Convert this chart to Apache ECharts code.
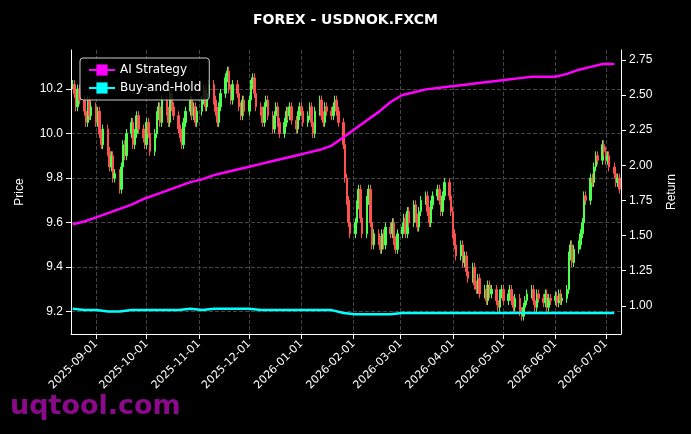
<!DOCTYPE html><html><head><meta charset="utf-8"><script src="https://cdn.jsdelivr.net/npm/echarts@6/dist/echarts.min.js"></script>
<style>body{margin:0;background:#000}#c{width:691px;height:434px}</style></head><body><div id="c"></div><script>
const startDate='2025-08-18';
const closes=[10.22,10.18,10.12,10.20,10.15, 10.10,10.05,10.15,10.08,10.12, 10.05,10.10,10.00,9.95,10.02, 9.92,9.85,9.90,9.80,9.82,
9.75,9.85,9.95,9.90,10.00, 10.05,9.95,10.00,10.08,10.02, 9.98,9.95,10.05,10.00,9.92, 10.00,10.08,10.12,10.05,10.15,
10.10,10.05,10.18,10.12,10.08, 10.02,9.98,9.95,10.05,10.10, 10.15,10.08,10.12,10.05,10.10, 10.15,10.20,10.12,10.18,10.22,
10.15,10.10,10.05,10.12,10.18, 10.25,10.28,10.20,10.15,10.22, 10.18,10.12,10.08,10.15,10.10, 10.15,10.22,10.25,10.18,10.12,
10.10,10.05,10.12,10.15,10.08, 10.02,10.08,10.12,10.05,10.00, 10.05,10.10,10.08,10.12,10.06, 10.02,10.08,10.12,10.10,10.05,
10.08,10.12,10.05,10.00,10.10, 10.15,10.08,10.05,10.12,10.10, 10.08,10.12,10.15,10.10,10.05, 9.95,9.80,9.70,9.60,9.55,
9.60,9.68,9.75,9.62,9.55, 9.70,9.75,9.60,9.50,9.55, 9.52,9.48,9.55,9.50,9.58, 9.55,9.60,9.52,9.48,9.55,
9.58,9.62,9.55,9.65,9.60, 9.68,9.62,9.58,9.65,9.70, 9.72,9.65,9.60,9.68,9.72, 9.75,9.70,9.65,9.72,9.78,
9.72,9.65,9.55,9.50,9.45, 9.50,9.42,9.45,9.38,9.35, 9.40,9.32,9.30,9.35,9.28, 9.30,9.25,9.32,9.28,9.30,
9.25,9.22,9.28,9.30,9.25, 9.28,9.30,9.25,9.22,9.26, 9.20,9.18,9.22,9.25,9.28, 9.30,9.25,9.22,9.28,9.26,
9.24,9.28,9.22,9.26,9.25, 9.27,9.24,9.28,9.25,9.26, 9.30,9.45,9.50,9.42,9.48, 9.50,9.55,9.60,9.72,9.70,
9.80,9.78,9.85,9.90,9.88, 9.95,9.92,9.88,9.90,9.85, 9.82,9.78,9.80,9.75];
const aiReturn=[1.58,1.60,1.63,1.66,1.69,1.72,1.76,1.79,1.82,1.85,1.88,1.90,1.93,1.95,1.97,1.99,2.01,2.03,2.05,2.07,2.09,2.11,2.14,2.20,2.26,2.32,2.38,2.45,2.50,2.52,2.54,2.55,2.56,2.57,2.58,2.59,2.60,2.61,2.62,2.63,2.63,2.63,2.65,2.68,2.70,2.72,2.72];
const bhReturn=[0.98,0.97,0.97,0.96,0.96,0.97,0.97,0.97,0.97,0.97,0.98,0.97,0.98,0.98,0.98,0.98,0.97,0.97,0.97,0.97,0.97,0.97,0.97,0.95,0.94,0.94,0.94,0.94,0.95,0.95,0.95,0.95,0.95,0.95,0.95,0.95,0.95,0.95,0.95,0.95,0.95,0.95,0.95,0.95,0.95,0.95,0.95];
const priceTicks=[9.2,9.4,9.6,9.8,10.0,10.2];
const returnTicks=[1.00,1.25,1.50,1.75,2.00,2.25,2.50,2.75];
const monthTicks=['2025-09-01','2025-10-01','2025-11-01','2025-12-01','2026-01-01','2026-02-01','2026-03-01','2026-04-01','2026-05-01','2026-06-01','2026-07-01'];

const DAY=86400000, t0=Date.parse(startDate+'T00:00:00Z');
const days=[];{let i=0;while(days.length<closes.length){const d=t0+i*DAY;const wd=new Date(d).getUTCDay();if(wd>0&&wd<6)days.push(d);i++;}}
const candles=closes.map((c,i)=>{const o=i?closes[i-1]:c;return [days[i],o,c,Math.min(o,c)-0.02,Math.max(o,c)+0.02];});
const ai=aiReturn.map((v,i)=>[t0+i*7*DAY,v]);
const bh=bhReturn.map((v,i)=>[t0+i*7*DAY,v]);
const mt=monthTicks.map(s=>Date.parse(s+'T00:00:00Z'));
const pad=n=>String(n).padStart(2,'0');
const fmt=v=>{const d=new Date(v);return d.getUTCFullYear()+'-'+pad(d.getUTCMonth()+1)+'-'+pad(d.getUTCDate());};
const grid='#444';
const ch=echarts.init(document.getElementById('c'));
ch.setOption({backgroundColor:'#000',animation:false,
title:{text:'FOREX - USDNOK.FXCM',left:'center',top:8,textStyle:{color:'#fff',fontSize:14,fontWeight:'bold',fontFamily:'DejaVu Sans'}},
graphic:[{type:'text',left:10,top:393,z:100,style:{text:'uqtool.com',fill:'#8B0A8B',font:'bold 27px DejaVu Sans'}}],
legend:{left:80,top:58,orient:'vertical',itemGap:6,backgroundColor:'rgba(0,0,0,0.8)',borderColor:'#ccc',borderWidth:1,borderRadius:3,padding:[6,8],
 textStyle:{color:'#fff',fontSize:12,fontFamily:'DejaVu Sans'},itemWidth:26,data:['AI Strategy','Buy-and-Hold']},
grid:{left:71,right:70,top:50,bottom:100},
xAxis:{type:'value',min:Date.parse('2025-08-17T00:00:00Z'),max:Date.parse('2026-07-10T00:00:00Z'),
 axisLine:{lineStyle:{color:'#fff'}},axisTick:{customValues:mt,lineStyle:{color:'#fff'}},
 axisLabel:{customValues:mt,formatter:fmt,rotate:45,color:'#fff',fontSize:11,fontFamily:'DejaVu Sans'},
 splitLine:{show:true,lineStyle:{color:grid,type:'dashed'}}},
yAxis:[{type:'value',min:9.1,max:10.375,name:'Price',nameLocation:'middle',nameGap:45,nameTextStyle:{color:'#fff',fontSize:12},
 axisLine:{show:true,lineStyle:{color:'#fff'}},axisTick:{show:true,customValues:priceTicks},
 axisLabel:{customValues:priceTicks,color:'#fff',fontSize:12,formatter:v=>v.toFixed(1)},
 splitLine:{show:true,lineStyle:{color:grid,type:'dashed'}}},
 {type:'value',min:0.8,max:2.82,name:'Return',nameLocation:'middle',nameGap:45,nameTextStyle:{color:'#fff',fontSize:12},
 axisLine:{show:true,lineStyle:{color:'#fff'}},axisTick:{show:true,customValues:returnTicks},
 axisLabel:{customValues:returnTicks,color:'#fff',fontSize:12,formatter:v=>v.toFixed(2)},splitLine:{show:false}}],
series:[{type:'candlestick',data:candles,barWidth:2,
 itemStyle:{color:'#4cff4c',color0:'#ff5050',borderColor:'#4cff4c',borderColor0:'#ff5050',borderWidth:1}},
 {name:'AI Strategy',type:'line',yAxisIndex:1,data:ai,symbol:'rect',symbolSize:4,showSymbol:false,lineStyle:{color:'#ff00ff',width:2.5},itemStyle:{color:'#ff00ff'}},
 {name:'Buy-and-Hold',type:'line',yAxisIndex:1,data:bh,symbol:'rect',symbolSize:4,showSymbol:false,lineStyle:{color:'#00ffff',width:2.5},itemStyle:{color:'#00ffff'}}]});
</script></body></html>
